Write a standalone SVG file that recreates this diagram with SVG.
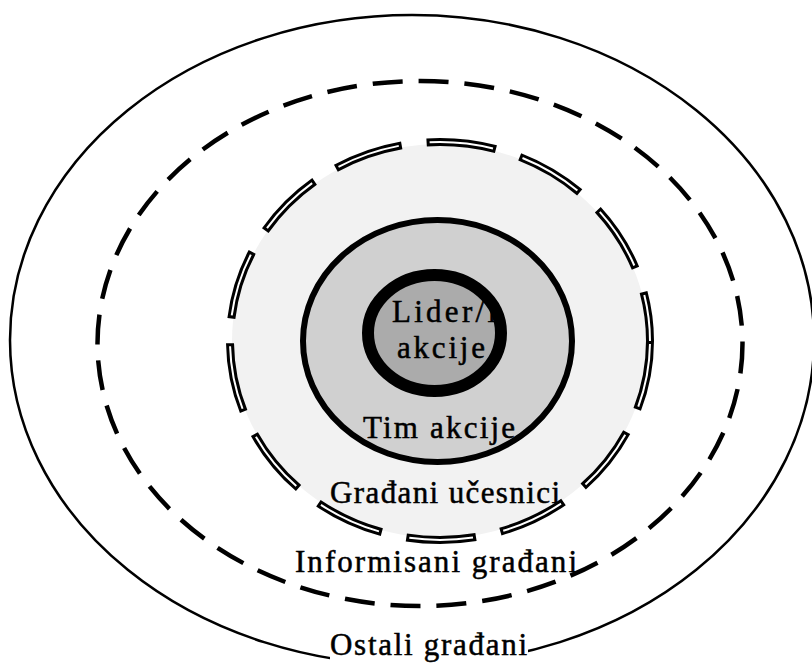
<svg xmlns="http://www.w3.org/2000/svg" width="812" height="668" viewBox="0 0 812 668">
  <style>
    .lbl { font-family: "Liberation Serif", "Times New Roman", serif; font-size: 31px; fill: #000; stroke: #000; stroke-width: 0.5; }
    .ring { fill: none; stroke: #000; }
  </style>
  <rect x="0" y="0" width="812" height="668" fill="#fff"/>
  <g id="ostali">
    <ellipse class="ring" cx="412" cy="340" rx="402" ry="325" stroke-width="2.5"/>
    <rect x="330" y="628" width="198" height="40" fill="#fff"/>
    <text class="lbl" x="330" y="655" textLength="197" lengthAdjust="spacing">Ostali građani</text>
  </g>
  <g id="informisani">
    <ellipse class="ring" cx="420" cy="343.5" rx="322.5" ry="262.5" stroke-width="4.5" stroke-dasharray="30 16"/>
    <text class="lbl" x="295" y="572" textLength="282" lengthAdjust="spacing">Informisani građani</text>
  </g>
  <g id="gradjani-ucesnici">
    <ellipse cx="440" cy="341" rx="208" ry="197" fill="#f2f2f2"/>
    <ellipse class="ring" cx="440" cy="341" rx="210" ry="199" stroke-width="8" stroke-dasharray="70 25"/>
    <ellipse cx="440" cy="341" rx="210" ry="199" fill="none" stroke="#fff" stroke-width="2" stroke-dasharray="64 31" stroke-dashoffset="-3"/>
    <text class="lbl" x="330" y="503" textLength="230" lengthAdjust="spacing">Građani učesnici</text>
  </g>
  <g id="tim-akcije">
    <ellipse cx="437.5" cy="341" rx="134.5" ry="121" fill="#d0d0d0"/>
    <text class="lbl" x="363" y="438" textLength="152" lengthAdjust="spacing">Tim akcije</text>
    <ellipse class="ring" cx="437.5" cy="341" rx="134.5" ry="121" stroke-width="6"/>
  </g>
  <g id="lider">
    <ellipse cx="434.5" cy="333" rx="66.5" ry="58" fill="#ababab"/>
    <text class="lbl" x="392" y="322" textLength="104" lengthAdjust="spacing">Lider/i</text>
    <text class="lbl" x="397" y="358" textLength="88" lengthAdjust="spacing">akcije</text>
    <ellipse class="ring" cx="434.5" cy="333" rx="66.5" ry="58" stroke-width="12"/>
  </g>
  <g id="connectors"/>
</svg>
